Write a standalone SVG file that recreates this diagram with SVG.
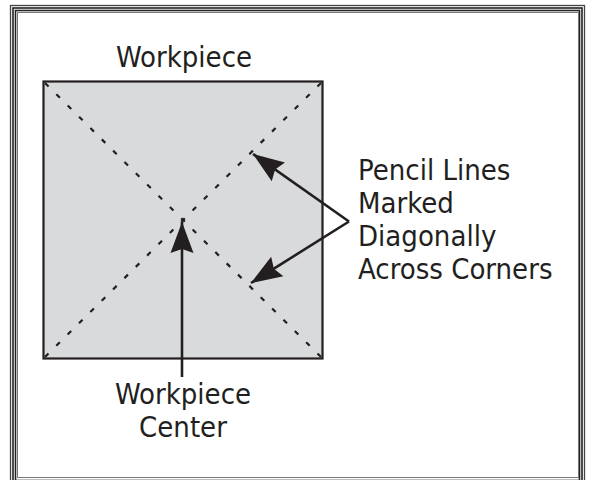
<svg xmlns="http://www.w3.org/2000/svg" width="589" height="480" viewBox="0 0 589 480">
<style>
.frame{fill:none}
.lbl{font-family:"DejaVu Sans Condensed","DejaVu Sans",sans-serif;font-size:29px;fill:#231f20}
.conn{stroke:#231f20;stroke-width:2.6;fill:none}
.diag{stroke:#231f20;stroke-width:2.2;stroke-dasharray:5 11;fill:none}
</style>
<defs>
<marker id="ah" markerUnits="userSpaceOnUse" markerWidth="34" markerHeight="28" viewBox="0 0 34 28" refX="32" refY="14" orient="auto">
<path d="M32,14 L1,2.5 L5,14 L1,25.5 Z" fill="#231f20"/>
</marker>
</defs>
<rect width="589" height="480" fill="#fff"/>
<g id="frame" class="frame">
<rect x="10.5" y="5.5" width="574" height="480" stroke="#444" stroke-width="1.3"/>
<rect x="13" y="8" width="569" height="475" stroke="#222" stroke-width="1.6"/>
<rect x="15.5" y="10.5" width="564" height="470" stroke="#222" stroke-width="1.6"/>
<rect x="17.5" y="12.5" width="561" height="465" stroke="#777" stroke-width="1"/>
</g>
<g id="workpiece">
<rect x="43.5" y="81.5" width="279" height="277" fill="#d9dadb" stroke="#231f20" stroke-width="2.2"/>
<line class="diag" x1="45" y1="83" x2="321" y2="357"/>
<line class="diag" x1="321" y1="83" x2="45" y2="357"/>
<text class="lbl" x="184" y="67" text-anchor="middle">Workpiece</text>
</g>
<g id="connectors">
<line class="conn" x1="182" y1="377" x2="182" y2="222" marker-end="url(#ah)"/>
<line class="conn" x1="349" y1="221.5" x2="253" y2="154" marker-end="url(#ah)"/>
<line class="conn" x1="349" y1="221.5" x2="251" y2="283" marker-end="url(#ah)"/>
</g>
<g id="pencil-label">
<text class="lbl" x="358" y="180">Pencil Lines</text>
<text class="lbl" x="358" y="213">Marked</text>
<text class="lbl" x="358" y="246">Diagonally</text>
<text class="lbl" x="358" y="279">Across Corners</text>
</g>
<g id="center-label">
<text class="lbl" x="183" y="404" text-anchor="middle">Workpiece</text>
<text class="lbl" x="183" y="437" text-anchor="middle">Center</text>
</g>
</svg>
